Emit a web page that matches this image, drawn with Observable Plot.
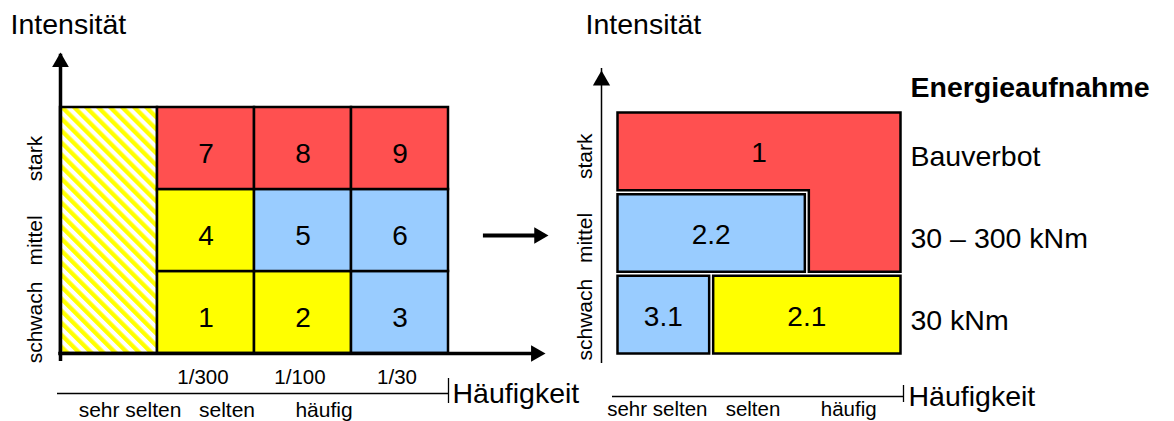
<!DOCTYPE html>
<html>
<head>
<meta charset="utf-8">
<script src="https://cdn.jsdelivr.net/npm/d3@7"></script>
<script src="https://cdn.jsdelivr.net/npm/@observablehq/plot@0.6"></script>
<style>
  html, body { margin: 0; padding: 0; background: #fff; overflow: hidden; }
  #wrap { display: flex; width: 1174px; height: 421px; }
  #wrap > svg { flex: none; }
</style>
</head>
<body>
<div id="wrap"></div>
<script>
// ---------------- data ----------------
const intensityTitle = "Intensität";
const frequencyTitle = "Häufigkeit";
const intensities = ["schwach", "mittel", "stark"];            // rows, bottom to top
const frequencyClasses = ["sehr selten", "selten", "häufig"];  // columns
const frequencyTicks = ["1/300", "1/100", "1/30"];
const hazardClasses = ["gering", "mittel", "hoch"];
const classColors = ["#FFFF00", "#99CCFF", "#FF5050"];

// left matrix: 9 numbered cells (column 0 = hatched "sehr selten")
const cellNumbers = [1, 2, 3, 4, 5, 6, 7, 8, 9];
const cellColumns = [1, 2, 3, 1, 2, 3, 1, 2, 3];
const cellRows    = [0, 0, 0, 1, 1, 1, 2, 2, 2];
const cellClasses = ["gering", "gering", "mittel", "gering", "mittel", "mittel", "hoch", "hoch", "hoch"];

// right: resulting zones (grid units: columns sehr selten/selten/häufig, rows schwach/mittel/stark)
const zoneLabels = ["1", "2.2", "3.1", "2.1"];
const zoneClasses = ["hoch", "mittel", "mittel", "gering"];
const zoneOutlines = [
  [[0, 3], [3, 3], [3, 1], [2, 1], [2, 2], [0, 2]],
  [[0, 2], [2, 2], [2, 1], [0, 1]],
  [[0, 1], [1, 1], [1, 0], [0, 0]],
  [[1, 1], [3, 1], [3, 0], [1, 0]]
];
const zoneLabelX = [1.5, 1, 0.5, 2];
const zoneLabelY = [2.5, 1.5, 0.5, 0.5];
const energyTitle = "Energieaufnahme";
const energyLabels = ["30 kNm", "30 – 300 kNm", "Bauverbot"]; // rows schwach, mittel, stark

// ---------------- layout / style ----------------
const H = 421;
const fontFamily = "'Liberation Sans', Arial, Helvetica, sans-serif";
const big = 28.5, tickFont = 20.5, classFont = 21, rowFont = 21, numFont = 28;
const L = {width: 580, left: 60, right: 132, top: 107, bottom: 68, yTip: 3.67, xTip: 5, arrowFrom: 4.36, arrowTo: 5.03};
const R = {width: 594, left: 35, right: 272, top: 110, bottom: 66, yTip: 3.49};

const cells = cellNumbers.map((n, i) => ({n, col: cellColumns[i], row: cellRows[i], cls: cellClasses[i]}));
const hatched = [{label: frequencyClasses[0]}];

// inset a rectilinear clockwise polygon by (gx, gy) grid units
function inset(points, gx, gy) {
  const n = points.length;
  return points.map((p, i) => {
    const a = points[(i - 1 + n) % n], b = points[(i + 1) % n];
    const d1 = [Math.sign(p[0] - a[0]), Math.sign(p[1] - a[1])];
    const d2 = [Math.sign(b[0] - p[0]), Math.sign(b[1] - p[1])];
    return [p[0] + (d1[1] + d2[1]) * gx, p[1] + (-d1[0] - d2[0]) * gy];
  });
}
const gapPx = 2;
const gx = gapPx * 3 / (R.width - R.left - R.right);
const gy = gapPx * 3 / (H - R.top - R.bottom);
const zoneVertices = zoneOutlines.flatMap((pts, i) =>
  inset(pts, gx, gy).map(([x, y]) => ({zone: zoneLabels[i], cls: zoneClasses[i], x, y})));
const zones = zoneLabels.map((label, i) => ({label, x: zoneLabelX[i], y: zoneLabelY[i]}));

const tri = (opts) => Plot.dot([0], {symbol: "triangle", fill: "black", stroke: "none", ...opts});

// ---------------- left chart ----------------
const left = Plot.plot({
  width: L.width, height: H,
  marginLeft: L.left, marginRight: L.right, marginTop: L.top, marginBottom: L.bottom,
  x: {type: "linear", domain: [0, 4], axis: null},
  y: {type: "linear", domain: [0, 3], axis: null},
  color: {domain: hazardClasses, range: classColors},
  style: {fontFamily, background: "white", overflow: "visible", color: "black"},
  marks: [
    Plot.rect(hatched, {x1: 0, x2: 1, y1: 0, y2: 3, fill: "url(#hatch)", stroke: "black", strokeWidth: 2.5}),
    Plot.rect(cells, {x1: "col", x2: d => d.col + 1, y1: "row", y2: d => d.row + 1, fill: "cls", stroke: "black", strokeWidth: 2.5}),
    Plot.text(cells, {x: d => d.col + 0.5, y: d => d.row + 0.5, text: "n", fontSize: numFont, dy: 6}),
    // axes
    Plot.ruleX([0], {y1: 0, y2: L.yTip, strokeWidth: 3.5, insetTop: 8, insetBottom: -1.75}),
    tri({x: 0, y: L.yTip, r: 6.2, dy: 9.6}),
    Plot.ruleY([0], {x1: 0, x2: L.xTip, strokeWidth: 3.5, insetLeft: -1.75, insetRight: 8}),
    tri({x: L.xTip, y: 0, r: 6.2, dx: -9.6, rotate: 90}),
    Plot.text([intensityTitle], {x: 0, y: L.yTip, text: d => d, textAnchor: "start", dx: -50, dy: -28.1, fontSize: big}),
    Plot.text(intensities, {x: 0, y: (d, i) => i + 0.5, text: d => d, rotate: -90, dx: -25, dy: 10, fontSize: rowFont}),
    Plot.text(frequencyTicks, {x: (d, i) => i + 1.5, y: 0, text: d => d, dx: -3, dy: 23.5, fontSize: tickFont}),
    Plot.ruleY([0], {x1: 0, x2: 4, dy: 40, insetLeft: -3, strokeWidth: 1.3}),
    Plot.ruleX([4], {y1: 0, y2: 0, dy: 40, insetTop: -15, insetBottom: -10, strokeWidth: 1.3}),
    Plot.text([frequencyTitle], {x: 4, y: 0, text: d => d, textAnchor: "start", dx: 4, dy: 40, fontSize: big}),
    Plot.text(frequencyClasses, {x: (d, i) => i + 0.5, y: 0, text: d => d, dx: 21, dy: 57, fontSize: classFont}),
    // arrow between the two charts
    Plot.ruleY([1.5], {x1: L.arrowFrom, x2: L.arrowTo, dy: 5, strokeWidth: 4, insetRight: 8}),
    tri({x: L.arrowTo, y: 1.5, r: 6.1, dx: -9.4, dy: 5, rotate: 90})
  ]
});

const defs = d3.create("svg:defs");
const pat = defs.append("pattern").attr("id", "hatch").attr("patternUnits", "userSpaceOnUse")
  .attr("width", 8.5).attr("height", 8.5).attr("patternTransform", "rotate(-45)");
pat.append("rect").attr("width", 8.5).attr("height", 8.5).attr("fill", "white");
pat.append("rect").attr("width", 4.3).attr("height", 8.5).attr("fill", classColors[0]);
left.insertBefore(defs.node(), left.firstChild);

// ---------------- right chart ----------------
const right = Plot.plot({
  width: R.width, height: H,
  marginLeft: R.left, marginRight: R.right, marginTop: R.top, marginBottom: R.bottom,
  x: {type: "linear", domain: [0, 3], axis: null},
  y: {type: "linear", domain: [0, 3], axis: null},
  color: {domain: hazardClasses, range: classColors},
  style: {fontFamily, background: "white", overflow: "visible", color: "black"},
  marks: [
    Plot.ruleX([0], {y1: 0, y2: R.yTip, dx: -14, strokeWidth: 1.5, insetTop: 8, insetBottom: 2}),
    tri({x: 0, y: R.yTip, r: 6.4, dx: -14, dy: 10}),
    Plot.text([intensityTitle], {x: 0, y: R.yTip, text: d => d, textAnchor: "start", dx: -30, dy: -46.1, fontSize: big}),
    Plot.text(intensities, {x: 0, y: (d, i) => i + 0.5, text: d => d, rotate: -90, dx: -30, dy: 5, fontSize: rowFont}),
    Plot.line(zoneVertices, {x: "x", y: "y", z: "zone", fill: "cls", stroke: "black", strokeWidth: 2.5,
      curve: "linear-closed", strokeLinejoin: "miter", strokeLinecap: "butt", strokeMiterlimit: 4}),
    Plot.text(zones, {x: "x", y: "y", text: "label", fontSize: numFont, dy: 2}),
    Plot.text([energyTitle], {x: 3, y: 3, text: d => d, textAnchor: "start", dx: 8, dy: -23, fontSize: big, fontWeight: "bold"}),
    Plot.text(energyLabels, {x: 3, y: (d, i) => i + 0.5, text: d => d, textAnchor: "start", dx: 8, dy: 6, fontSize: big}),
    Plot.ruleY([0], {x1: 0, x2: 3, dy: 41, insetLeft: -3, insetRight: -1, strokeWidth: 1.3}),
    Plot.ruleX([3], {y1: 0, y2: 0, dx: 1, dy: 41, insetTop: -11, insetBottom: -6, strokeWidth: 1.3}),
    Plot.text([frequencyTitle], {x: 3, y: 0, text: d => d, textAnchor: "start", dx: 6, dy: 41, fontSize: big}),
    Plot.text(frequencyClasses, {x: (d, i) => i + 0.5, y: 0, text: d => d, dx: -6, dy: 54, fontSize: tickFont})
  ]
});

const wrap = document.getElementById("wrap");
wrap.appendChild(left);
wrap.appendChild(right);
</script>
</body>
</html>
